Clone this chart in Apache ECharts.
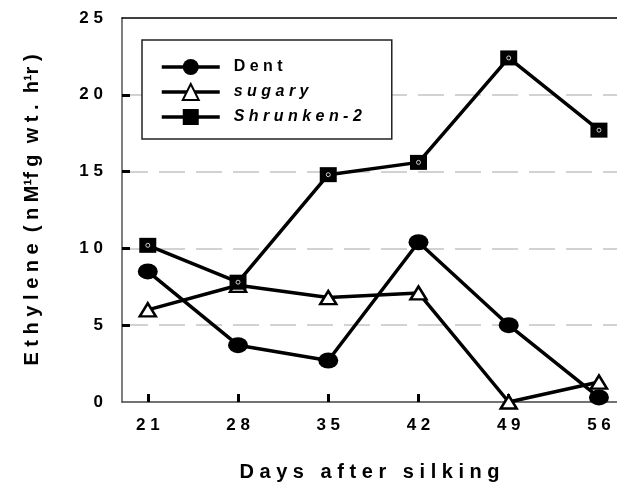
<!DOCTYPE html>
<html>
<head>
<meta charset="utf-8">
<script src="https://cdn.jsdelivr.net/npm/echarts@6/dist/echarts.min.js"></script>
<style>html,body{margin:0;padding:0;background:#fff;}#c{width:617px;height:484px;}</style>
</head>
<body>
<div id="c"></div>
<script>
const days = [21, 28, 35, 42, 49, 56];
const dent = [8.5, 3.7, 2.7, 10.4, 5.0, 0.3];
const sugary = [6.0, 7.6, 6.8, 7.1, 0.0, 1.3];
const shrunken = [10.2, 7.8, 14.8, 15.6, 22.4, 17.7];
const xTickLabels = [21, 28, 35, 42, 49, 56];
const yTickLabels = [0, 5, 10, 15, 20, 25];
const seriesNames = ['Dent', 'sugary', 'Shrunken-2'];
const xTitle = 'Days after silking';
const yTitle = 'E t h y l e n e  ( n M\u00b9f g  w t .  h\u00b9r )';

const FONT = '"Liberation Sans", Arial, sans-serif';
const spaced = s => String(s).split(' ').map(w => w.split('').join(' ')).join('   ');
const pairs = arr => days.map((d, i) => [d, arr[i]]);

const chart = echarts.init(document.getElementById('c'), null, {renderer: 'canvas'});
chart.setOption({
  animation: false,
  backgroundColor: '#fff',
  grid: {left: 122, top: 18, right: 0, bottom: 82, containLabel: false, outerBoundsMode: 'none'},
  xAxis: [{
    type: 'value', min: 19, max: 57.4,
    name: spaced(xTitle), nameLocation: 'middle', nameGap: 60,
    nameTextStyle: {fontFamily: FONT, fontWeight: 'bold', fontSize: 20, color: '#000'},
    axisLine: {show: true, onZero: false, lineStyle: {color: '#444', width: 1.5}},
    axisTick: {show: true, inside: true, length: 8, customValues: xTickLabels, lineStyle: {color: '#000', width: 3}},
    axisLabel: {customValues: xTickLabels, formatter: v => spaced(v), fontFamily: FONT, fontWeight: 'bold', fontSize: 17, color: '#000', margin: 15},
    splitLine: {show: false}
  }, {
    type: 'value', min: 19, max: 57.4, position: 'top',
    axisLine: {show: true, onZero: false, lineStyle: {color: '#000', width: 1.5}},
    axisTick: {show: false}, axisLabel: {show: false}, splitLine: {show: false}
  }],
  yAxis: {
    type: 'value', min: 0, max: 25, interval: 5,
    name: yTitle, nameLocation: 'middle', nameGap: 80, nameRotate: 90,
    nameTextStyle: {fontFamily: FONT, fontWeight: 'bold', fontSize: 20, color: '#000'},
    axisLine: {show: true, lineStyle: {color: '#555', width: 1.5}},
    axisTick: {show: true, inside: true, length: 8, customValues: [5, 10, 15, 20], lineStyle: {color: '#000', width: 3}},
    axisLabel: {customValues: yTickLabels, formatter: v => spaced(v), fontFamily: FONT, fontWeight: 'bold', fontSize: 17, color: '#000', margin: 19},
    splitLine: {show: true, lineStyle: {color: '#c4c4c4', width: 1.5, type: [26, 11]}}
  },
  legend: {
    orient: 'vertical', left: 142, top: 40,
    itemWidth: 58, itemHeight: 20, itemGap: 8,
    padding: [19, 30, 14, 18],
    borderColor: '#222', borderWidth: 1.5, backgroundColor: '#fff',
    lineStyle: {width: 3.5, color: '#000'},
    textStyle: {fontFamily: FONT, fontWeight: 'bold', fontSize: 16, color: '#000', padding: [0, 0, 0, 9]},
    formatter: n => spaced(n),
    data: [
      {name: seriesNames[0]},
      {name: seriesNames[1], textStyle: {fontStyle: 'italic'}},
      {name: seriesNames[2], textStyle: {fontStyle: 'italic'}}
    ]
  },
  series: [{
    name: seriesNames[0], type: 'line', data: pairs(dent),
    symbol: 'circle', symbolSize: [20, 16],
    lineStyle: {color: '#000', width: 3.5}, itemStyle: {color: '#000'}, z: 3
  }, {
    name: seriesNames[1], type: 'line', data: pairs(sugary),
    symbol: 'triangle', symbolSize: [16, 13],
    lineStyle: {color: '#000', width: 3.5}, itemStyle: {color: '#fff', borderColor: '#000', borderWidth: 2.5}, z: 4
  }, {
    name: seriesNames[2], type: 'line', data: pairs(shrunken),
    symbol: 'rect', symbolSize: [17, 15],
    lineStyle: {color: '#000', width: 3.5}, itemStyle: {color: '#000'}, z: 5
  }, {
    name: 'dot', type: 'scatter', data: pairs(shrunken),
    symbol: 'circle', symbolSize: 4, silent: true,
    itemStyle: {color: '#000', borderColor: '#fff', borderWidth: 1}, z: 6
  }]
});
</script>
</body>
</html>
